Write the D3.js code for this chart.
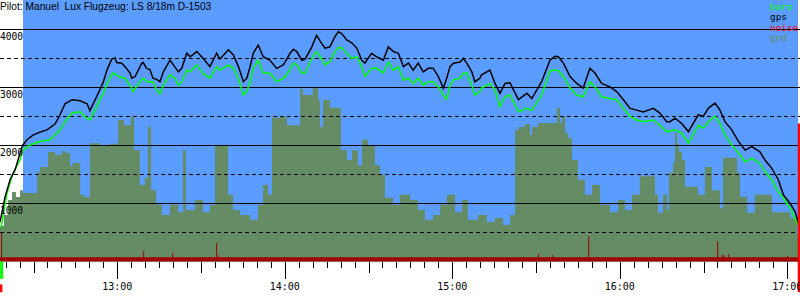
<!DOCTYPE html>
<html>
<head>
<meta charset="utf-8">
<script src="https://cdn.jsdelivr.net/npm/d3@7"></script>
<style>
  html, body { margin: 0; padding: 0; background: #fff; }
  svg { display: block; }
</style>
</head>
<body>
<div id="chart"></div>
<script>
// all times are minutes after 12:00, all heights are metres
const gpsTrack = [
  [18.0,680],[19.8,1110],[21.6,1410],[23.4,1580],[25.2,1870],[26.2,2010],[27.7,2100],[29.8,2180],
  [32.3,2230],[34.8,2270],[37.7,2370],[39.5,2530],[41.3,2720],[43.8,2790],[46.7,2770],[49.2,2720],
  [50.2,2600],[52.6,2840],[54.9,3080],[56.3,3300],[58.0,3490],[59.2,3510],[59.8,3430],[61.6,3420],
  [62.8,3360],[64.6,3250],[65.2,3160],[66.4,3190],[68.8,3420],[69.3,3430],[70.5,3330],[71.7,3310],
  [72.8,3160],[74.1,3140],[75.3,3100],[76.5,3270],[78.9,3470],[80.1,3390],[81.9,3270],[83.1,3330],
  [84.9,3590],[86.1,3530],[88.5,3620],[90.8,3500],[93.2,3360],[95.6,3590],[96.8,3490],[99.8,3650],
  [101.6,3560],[103.4,3360],[105.2,3100],[106.4,3160],[107.6,3360],[108.7,3590],[110.5,3730],
  [112.3,3530],[114.7,3470],[117.1,3330],[119.5,3390],[121.9,3590],[123.1,3660],[124.3,3620],
  [126.1,3470],[127.3,3490],[129.7,3700],[131.4,3900],[133.2,3760],[134.4,3680],[136.2,3700],
  [138.0,3880],[139.2,3960],[140.4,3930],[142.2,3820],[144.0,3770],[145.8,3680],[147.6,3470],
  [148.7,3420],[151.1,3590],[152.9,3530],[155.3,3470],[157.1,3700],[158.9,3620],[160.7,3590],
  [162.5,3360],[164.3,3420],[166.0,3300],[167.8,3420],[169.6,3270],[171.4,3330],[173.2,3330],
  [175.0,3190],[176.8,2990],[178.0,3160],[179.2,3360],[180.4,3420],[182.8,3440],[184.0,3500],
  [185.2,3420],[187.0,3270],[188.1,3100],[189.9,3160],[190.5,3220],[193.5,3300],[195.3,3070],
  [197.1,2900],[198.9,3070],[200.7,3080],[203.7,2790],[206.7,2900],[208.5,2810],[212.0,3100],
  [215.0,3470],[216.8,3540],[218.0,3530],[219.8,3420],[222.2,3190],[224.6,3070],[226.9,2990],
  [229.3,3330],[231.1,3250],[233.5,3070],[236.5,3010],[238.9,2930],[241.3,2790],[243.7,2640],
  [246.1,2610],[248.4,2580],[252.0,2640],[254.4,2560],[256.8,2410],[258.0,2410],[259.8,2470],
  [262.2,2380],[264.6,2240],[268.1,2530],[269.9,2500],[271.7,2640],[274.1,2730],[275.9,2610],
  [277.7,2410],[280.1,2270],[282.5,2070],[284.9,1920],[287.3,1980],[290.2,1890],[292.0,1750],
  [294.4,1610],[296.8,1410],[298.6,1150],[301.0,1000],[302.8,860],[304.2,630]
];

const baroTrack = [
  [18.4,580],[20.5,1180],[22.7,1530],[25.2,1750],[26.2,1920],[28.7,2010],[32.3,2070],[35.9,2100],
  [38.4,2220],[39.5,2270],[41.3,2410],[43.8,2560],[46.7,2580],[48.8,2480],[50.2,2440],[52.6,2670],
  [54.9,2900],[56.7,3100],[58.0,3220],[58.5,3250],[61.0,3180],[62.8,3160],[65.2,2990],[65.6,2930],
  [68.1,3100],[69.3,3160],[70.7,3100],[72.8,3100],[74.1,2960],[75.3,2890],[76.5,3040],[78.9,3220],
  [80.7,3160],[81.9,3040],[83.1,3100],[84.9,3300],[86.1,3270],[88.5,3390],[90.8,3240],[93.2,3160],
  [95.6,3360],[96.8,3300],[99.8,3390],[101.6,3330],[103.3,3160],[105.2,2870],[106.4,2930],
  [107.6,3100],[108.7,3330],[110.5,3470],[112.3,3250],[114.7,3250],[117.1,3100],[119.5,3160],
  [120.7,3220],[123.1,3420],[124.3,3390],[126.1,3250],[127.3,3250],[129.7,3500],[131.4,3620],
  [133.2,3500],[134.4,3390],[136.2,3450],[138.0,3620],[139.2,3690],[140.4,3680],[142.2,3590],
  [144.0,3500],[145.8,3530],[147.6,3360],[148.7,3190],[151.1,3330],[152.9,3330],[155.3,3250],
  [157.1,3440],[158.9,3300],[160.7,3360],[162.5,3130],[164.3,3160],[166.0,3070],[167.8,3160],
  [169.6,3040],[171.4,3100],[173.2,3100],[175.0,3010],[176.8,2870],[178.0,2800],[179.2,3040],
  [180.4,3130],[182.8,3160],[184.0,3250],[185.2,3250],[187.0,3040],[188.1,2870],[189.9,2930],
  [190.5,2990],[193.5,3070],[195.3,2960],[197.1,2670],[198.9,2840],[200.7,2870],[203.7,2580],
  [206.7,2640],[208.5,2610],[212.0,2870],[215.0,3290],[216.8,3300],[218.0,3290],[219.8,3190],
  [222.2,2990],[224.6,2870],[226.9,2840],[229.3,3100],[231.1,3010],[233.5,2840],[236.5,2810],
  [238.9,2790],[241.3,2640],[243.7,2500],[246.1,2440],[248.4,2410],[252.0,2440],[254.4,2350],
  [256.8,2240],[259.8,2270],[262.2,2210],[264.6,2040],[268.1,2350],[269.9,2300],[271.7,2410],
  [274.1,2500],[275.9,2380],[277.7,2180],[280.1,2010],[282.5,1870],[284.9,1720],[287.3,1780],
  [290.2,1690],[292.0,1550],[294.4,1410],[296.8,1200],[298.6,1090],[301.0,920],[302.8,740],
  [304.2,580]
];

// ground elevation, each value holds until the next time
const gndSteps = [
  [18.0,610],[19.4,800],[20.9,1060],[22.3,1200],[23.7,1110],[25.2,1230],[26.2,1180],[31.3,1540],
  [32.3,1630],[35.2,1890],[37.7,1840],[40.2,1900],[41.6,1870],[43.1,1650],[44.1,1700],[46.7,1150],
  [48.1,1110],[50.2,2040],[53.8,2010],[57.4,2030],[60.3,2440],[62.4,2350],[64.9,2490],[66.0,1920],
  [68.1,1320],[69.9,1440],[71.0,2320],[72.1,1230],[73.9,980],[76.0,800],[78.9,980],[81.8,850],
  [83.6,1920],[84.6,890],[87.8,1060],[90.7,850],[93.2,980],[95.0,2010],[99.7,1150],[101.5,890],
  [104.0,800],[107.6,720],[110.4,980],[112.2,1320],[114.0,1150],[115.4,2480],[118.3,2490],
  [120.8,2350],[125.5,2980],[126.5,2870],[130.1,2990],[131.9,2790],[132.6,2320],[133.7,2790],
  [136.2,2650],[140.1,1920],[142.3,1750],[144.1,1920],[146.2,1660],[147.7,2100],[149.8,2010],
  [152.3,1660],[154.1,1490],[155.9,1100],[158.8,980],[161.3,1150],[164.9,1060],[167.7,890],
  [170.2,720],[173.1,800],[175.6,980],[178.1,1150],[181.0,850],[183.5,1060],[185.6,720],
  [189.2,800],[192.4,680],[195.3,750],[198.2,630],[200.7,800],[202.5,2270],[203.9,2320],
  [206.1,2370],[207.8,2180],[208.6,2320],[210.7,2390],[217.5,2650],[218.6,2390],[219.3,2490],
  [220.4,2220],[221.5,2130],[222.9,1750],[225.0,1410],[227.5,1150],[230.1,1320],[232.9,980],
  [236.5,850],[239.4,1060],[241.9,890],[244.4,1150],[247.2,1470],[252.6,1150],[253.7,840],
  [255.5,1150],[256.9,890],[257.6,1530],[259.1,1700],[259.8,2220],[260.5,2040],[261.2,1890],
  [262.3,1750],[263.4,1290],[268.0,1150],[270.5,1630],[273.0,1230],[275.9,920],[277.0,1790],
  [282.0,1530],[283.1,1110],[285.6,840],[288.4,1150],[294.5,850],[298.5,850],[301.0,750],
  [303.5,460],[304.6,460]
];

const noiseBase = 75;
const noiseSpikes = [
  [18.4,490],[69.3,180],[79.7,150],[95.4,320],[96.1,110],[210.7,130],[215.8,110],
  [228.7,440],[274.9,350],[276.5,110],[277.1,110],[278.9,130],[300.0,95]
];

// start / end markers: [series, time, from, to]
const flightMarks = [
  ["baro", 18.6, 0, -300],
  ["noise", 18.4, -395, -530],
  ["noise", 304.2, 2380, -530]
];

const hourTicks = [60, 120, 180, 240, 300];
const altTicks = [1000, 2000, 3000, 4000];
const legendNames = ["baro", "gps", "noise", "gnd"];
const title = "Pilot: Manuel  Lux Flugzeug: LS 8/18m D-1503";

const colors = {
  baro: "#00ff00",
  gps: "#000000",
  noise: "#ff0000",
  gnd: "#658c65",
  noiseFill: "#a00000",
  sky: "#5a9cff"
};

const width = 800, height = 300;
const mono = "'DejaVu Sans Mono', monospace";

const x = d3.scaleLinear().domain([18, 304.56]).range([0, width]);
const y = d3.scaleLinear().domain([0, 4000]).range([261.5, 29.5]);

const svg = d3.select("#chart").append("svg")
  .attr("width", width)
  .attr("height", height);

// sky
svg.append("rect")
  .attr("x", 23).attr("y", 0)
  .attr("width", 775).attr("height", y(0))
  .attr("fill", colors.sky);

// ground
const stepArea = d3.area()
  .x(d => x(d[0]))
  .y0(y(0))
  .y1(d => y(d[1]))
  .curve(d3.curveStepAfter);

svg.append("path")
  .datum(gndSteps)
  .attr("fill", colors.gnd)
  .attr("d", stepArea);

// noise band with spikes
const noiseSeries = [[18, noiseBase]];
noiseSpikes.forEach(([t, v]) => {
  noiseSeries.push([t, v]);
  noiseSeries.push([t + 0.36, noiseBase]);
});
noiseSeries.push([304.6, noiseBase]);

svg.append("path")
  .datum(noiseSeries)
  .attr("fill", colors.noiseFill)
  .attr("d", stepArea);

// grid
d3.range(500, 4001, 500).forEach(v => {
  svg.append("line")
    .attr("x1", 0).attr("x2", width)
    .attr("y1", y(v)).attr("y2", y(v))
    .attr("stroke", "#000")
    .attr("stroke-width", 1)
    .attr("stroke-dasharray", v % 1000 === 0 ? null : "4,3");
});

// flight traces
const line = d3.line()
  .x(d => x(d[0]))
  .y(d => y(d[1]));

svg.append("path")
  .datum(baroTrack)
  .attr("fill", "none")
  .attr("stroke", colors.baro)
  .attr("stroke-width", 1.5)
  .attr("d", line);

svg.append("path")
  .datum(gpsTrack)
  .attr("fill", "none")
  .attr("stroke", colors.gps)
  .attr("stroke-width", 1.5)
  .attr("d", line);

flightMarks.forEach(([name, t, a, b]) => {
  svg.append("line")
    .attr("x1", x(t)).attr("x2", x(t))
    .attr("y1", y(a)).attr("y2", y(b))
    .attr("stroke", colors[name])
    .attr("stroke-width", name === "baro" ? 3 : 2.5);
});

// time axis ticks
d3.range(20, 301, 5).forEach(m => {
  const len = m % 60 === 0 ? 17 : (m % 30 === 0 ? 11 : 6);
  const px = Math.round(x(m)) + 0.5;
  svg.append("line")
    .attr("x1", px).attr("x2", px)
    .attr("y1", 262).attr("y2", 262 + len)
    .attr("stroke", "#000")
    .attr("stroke-width", 1);
});

hourTicks.forEach(m => {
  svg.append("text")
    .attr("x", x(m))
    .attr("y", 289.5)
    .attr("text-anchor", "middle")
    .attr("font-family", mono)
    .attr("font-size", "10px")
    .attr("fill", "#000")
    .text(`${12 + m / 60}:00`);
});

// altitude labels
altTicks.forEach(v => {
  svg.append("text")
    .attr("x", 0)
    .attr("y", y(v) + 10)
    .attr("font-family", mono)
    .attr("font-size", "9.6px")
    .attr("fill", "#000")
    .text(v);
});

// title
svg.append("text")
  .attr("x", 0)
  .attr("y", 10)
  .attr("font-family", "'Liberation Sans', Arial, sans-serif")
  .attr("font-size", "10.2px")
  .attr("fill", "#000")
  .style("white-space", "pre")
  .text(title);

// legend
legendNames.forEach((name, i) => {
  svg.append("text")
    .attr("x", 770)
    .attr("y", 9.5 + i * 10.5)
    .attr("font-family", mono)
    .attr("font-size", "9.4px")
    .attr("fill", colors[name])
    .text(name);
});
</script>
</body>
</html>
